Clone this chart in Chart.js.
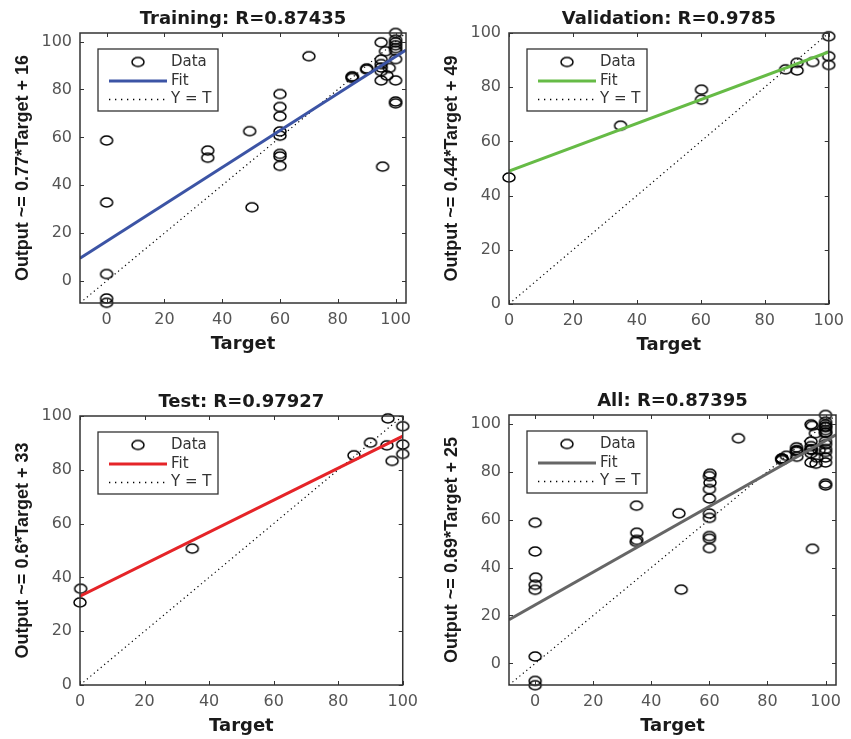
<!DOCTYPE html>
<html>
<head>
<meta charset="utf-8">
<script src="https://cdn.jsdelivr.net/npm/chart.js@4.4.3/dist/chart.umd.min.js"></script>
<style>
  body { margin: 0; background: #fff; width: 851px; height: 739px; position: relative; overflow: hidden; }
  canvas { position: absolute; }
</style>
</head>
<body>
<canvas id="train" width="425" height="370" style="left:0;top:0"></canvas>
<canvas id="valid" width="426" height="370" style="left:425px;top:0"></canvas>
<canvas id="test" width="425" height="369" style="left:0;top:370px"></canvas>
<canvas id="all" width="426" height="369" style="left:425px;top:370px"></canvas>
<script>
// values
const tickValues = [0, 20, 40, 60, 80, 100];

const trainTarget = [0, 0, 0, 0, 0, 35, 35, 49.5, 50.3,
    60, 60, 60, 60, 60, 60, 60, 60, 70, 85, 85, 85, 90, 90,
    95, 95, 95, 95, 95, 95, 95.5, 96.5, 97, 97.8,
    100, 100, 100, 100, 100, 100, 100, 100, 100, 100];
const trainOutput = [58.7, 32.8, 2.9, -7.3, -9.1, 54.5, 51.5, 62.6, 30.8,
    78.1, 72.7, 68.8, 62.5, 60.7, 53.1, 52.0, 48.1, 93.9, 85.5, 84.8, 85.2, 88.8, 88.3,
    99.7, 92.5, 90.6, 89.2, 87.7, 83.8, 47.8, 96.0, 85.8, 89.0,
    103.6, 100.8, 99.7, 98.5, 97.3, 96.2, 92.7, 83.8, 75.0, 74.2];
const trainFit = [0.771, 16.6];      // slope, intercept
const trainLimits = [-9.2, 103.6];

const validTarget = [0, 34.9, 60.2, 60.2, 86.5, 90.1, 90.1, 95, 100, 100, 100];
const validOutput = [46.7, 65.8, 79.1, 75.4, 86.6, 89.0, 86.2, 89.3, 98.8, 91.4, 88.2];
const validFit = [0.44, 49];
const validLimits = [0, 100];

const testTarget = [0.2, 0, 34.8, 84.9, 90, 95.4, 95.1, 96.7, 100, 100, 100];
const testOutput = [35.8, 30.7, 50.7, 85.4, 90.1, 99.1, 89.1, 83.3, 96.2, 89.4, 85.9];
const testFit = [0.595, 33];
const testLimits = [0, 100];

const allTarget = trainTarget.concat(validTarget, testTarget);
const allOutput = trainOutput.concat(validOutput, testOutput);
const allFit = [0.685, 24.4];
const allLimits = [-9.0, 103.6];

// open ellipse marker like the MATLAB 'o'
function makeMarker() {
    const c = document.createElement('canvas');
    c.width = 16; c.height = 13;
    const g = c.getContext('2d');
    g.strokeStyle = '#000';
    g.lineWidth = 1.5;
    g.beginPath();
    g.ellipse(8, 6.5, 6.0, 4.5, 0, 0, Math.PI * 2);
    g.stroke();
    return c;
}
const marker = makeMarker();

const framePlugin = {
    id: 'frame',
    afterDraw(chart, args, opts) {
        const { ctx, chartArea: a, scales } = chart;
        ctx.save();
        // inward tick marks on all four sides
        ctx.strokeStyle = '#333';
        ctx.lineWidth = 1;
        scales.x.ticks.forEach(t => {
            const x = Math.round(scales.x.getPixelForValue(t.value)) + 0.5;
            ctx.beginPath();
            ctx.moveTo(x, a.bottom); ctx.lineTo(x, a.bottom - 4);
            ctx.moveTo(x, a.top); ctx.lineTo(x, a.top + 4);
            ctx.stroke();
        });
        scales.y.ticks.forEach(t => {
            const y = Math.round(scales.y.getPixelForValue(t.value)) + 0.5;
            ctx.beginPath();
            ctx.moveTo(a.left, y); ctx.lineTo(a.left + 4, y);
            ctx.moveTo(a.right, y); ctx.lineTo(a.right - 4, y);
            ctx.stroke();
        });
        // axes box
        ctx.lineWidth = 1.5;
        ctx.strokeStyle = '#333';
        ctx.strokeRect(a.left, a.top, a.right - a.left, a.bottom - a.top);

        // titles
        const cx = (a.left + a.right) / 2;
        ctx.fillStyle = '#1a1a1a';
        ctx.textAlign = 'center';
        ctx.textBaseline = 'middle';
        ctx.font = 'bold 18px "DejaVu Sans"';
        ctx.fillText(opts.title, cx, a.top - 14);
        ctx.fillText('Target', cx, a.bottom + 41);
        ctx.save();
        ctx.translate(a.left - 57, (a.top + a.bottom) / 2);
        ctx.rotate(-Math.PI / 2);
        ctx.font = 'bold 18px "Liberation Sans"';
        ctx.fillText(opts.yLabel, 0, 0);
        ctx.restore();

        // legend box
        const bx = a.left + 18, by = a.top + 16, bw = 120, bh = 62;
        ctx.fillStyle = '#fff';
        ctx.fillRect(bx, by, bw, bh);
        ctx.lineWidth = 1.3;
        ctx.strokeStyle = '#333';
        ctx.strokeRect(bx, by, bw, bh);
        const ds = chart.data.datasets;
        const rows = [by + 13, by + 32, by + 50];
        ctx.drawImage(marker, bx + 40 - 8, rows[0] - 6.5);
        ctx.lineWidth = ds[0].borderWidth;
        ctx.strokeStyle = ds[0].borderColor;
        ctx.beginPath(); ctx.moveTo(bx + 11, rows[1]); ctx.lineTo(bx + 69, rows[1]); ctx.stroke();
        ctx.lineWidth = 1.3;
        ctx.strokeStyle = '#000';
        ctx.setLineDash([1.3, 4.7]);
        ctx.beginPath(); ctx.moveTo(bx + 11, rows[2] + 0.5); ctx.lineTo(bx + 69, rows[2] + 0.5); ctx.stroke();
        ctx.setLineDash([]);
        ctx.font = '15px "DejaVu Sans"';
        ctx.fillStyle = '#333';
        ctx.textAlign = 'left';
        ctx.fillText(ds[2].label, bx + 73, rows[0]);
        ctx.fillText(ds[0].label, bx + 73, rows[1]);
        ctx.fillText(ds[1].label, bx + 73, rows[2]);
        ctx.restore();
    }
};

function makePanel(id, title, yLabel, color, target, output, fit, limits, layout) {
    const [lo, hi] = limits;
    const points = target.map((t, i) => ({ x: t, y: output[i] }));
    new Chart(document.getElementById(id), {
        data: {
            datasets: [
                {
                    type: 'line', label: 'Fit',
                    data: [{ x: lo, y: fit[0] * lo + fit[1] }, { x: hi, y: fit[0] * hi + fit[1] }],
                    borderColor: color, borderWidth: 3, pointRadius: 0
                },
                {
                    type: 'line', label: 'Y = T',
                    data: [{ x: lo, y: lo }, { x: hi, y: hi }],
                    borderColor: '#000', borderWidth: 1.2, borderDash: [1.2, 3.3], pointRadius: 0
                },
                {
                    type: 'scatter', label: 'Data',
                    data: points,
                    pointStyle: marker, pointRadius: 6,
                    clip: false
                }
            ]
        },
        options: {
            responsive: false,
            animation: false,
            devicePixelRatio: 1,
            layout: { padding: { left: 0, top: layout.top, right: layout.right, bottom: 0 } },
            plugins: {
                legend: { display: false },
                tooltip: { enabled: false },
                frame: { title: title, yLabel: yLabel }
            },
            scales: {
                x: {
                    type: 'linear', min: lo, max: hi,
                    afterBuildTicks: s => { s.ticks = tickValues.map(v => ({ value: v })); },
                    afterFit: s => { s.height = layout.xHeight; },
                    grid: { display: false, drawTicks: false },
                    border: { display: false },
                    ticks: { padding: 7, color: '#555', font: { family: 'DejaVu Sans', size: 16 }, maxRotation: 0 }
                },
                y: {
                    type: 'linear', min: lo, max: hi,
                    afterBuildTicks: s => { s.ticks = tickValues.map(v => ({ value: v })); },
                    afterFit: s => { s.width = layout.yWidth; },
                    grid: { display: false, drawTicks: false },
                    border: { display: false },
                    ticks: { padding: 8, color: '#555', font: { family: 'DejaVu Sans', size: 16 } }
                }
            }
        },
        plugins: [framePlugin]
    });
}

makePanel('train', 'Training: R=0.87435', 'Output ~= 0.77*Target + 16', '#3c54a5',
    trainTarget, trainOutput, trainFit, trainLimits, { top: 33, right: 19, yWidth: 80, xHeight: 67 });
makePanel('valid', 'Validation: R=0.9785', 'Output ~= 0.44*Target + 49', '#66bb46',
    validTarget, validOutput, validFit, validLimits, { top: 33, right: 15, yWidth: 84, xHeight: 66 });
makePanel('test', 'Test: R=0.97927', 'Output ~= 0.6*Target + 33', '#e52428',
    testTarget, testOutput, testFit, testLimits, { top: 46, right: 19, yWidth: 80, xHeight: 54 });
makePanel('all', 'All: R=0.87395', 'Output ~= 0.69*Target + 25', '#666666',
    allTarget, allOutput, allFit, allLimits, { top: 45, right: 15, yWidth: 84, xHeight: 54 });
</script>
</body>
</html>
